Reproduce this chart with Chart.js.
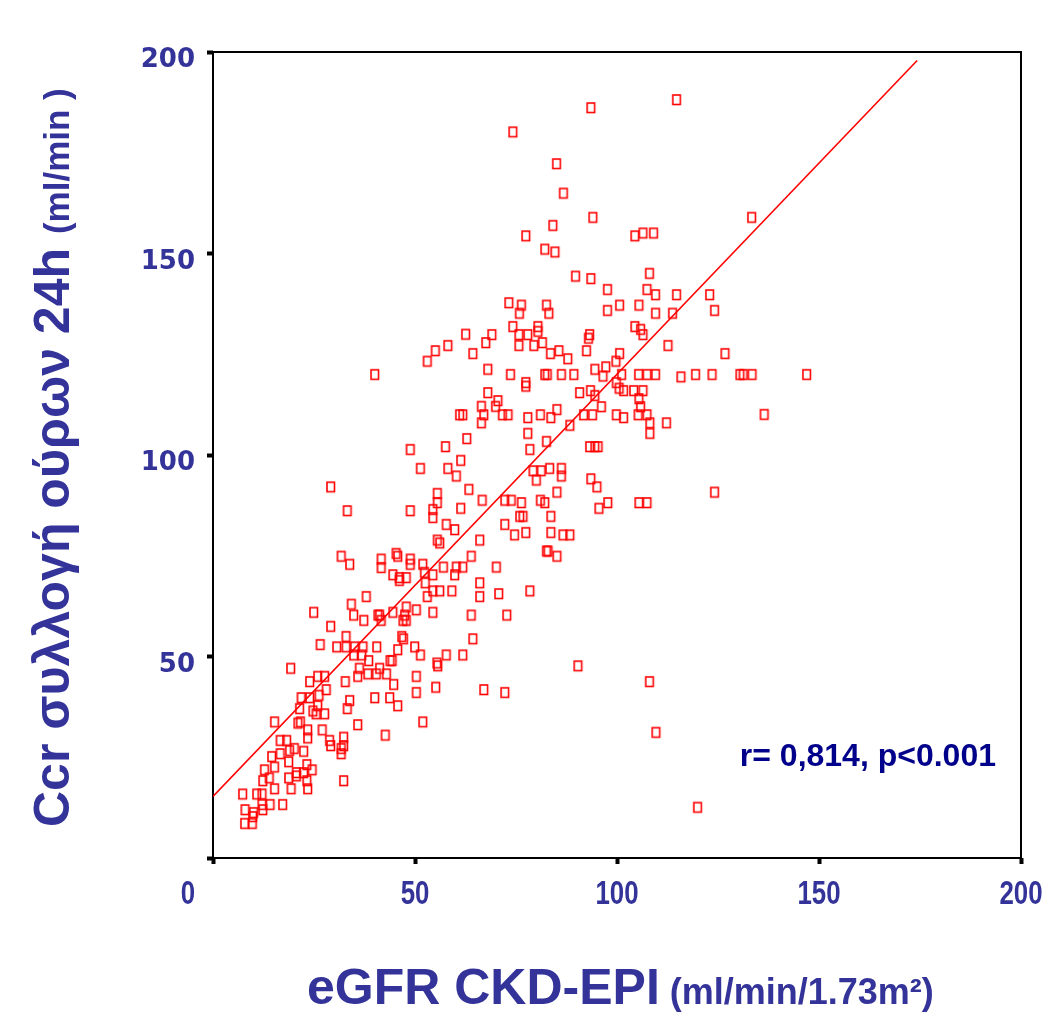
<!DOCTYPE html>
<html>
<head>
<meta charset="utf-8">
<script src="https://cdn.jsdelivr.net/npm/chart.js@4.4.0/dist/chart.umd.min.js"></script>
<style>
  html, body { margin: 0; padding: 0; background: #fff; }
  #wrap { position: relative; width: 1043px; height: 1017px; }
</style>
</head>
<body>
<div id="wrap"><canvas id="chart"></canvas></div>
<script>
// eGFR CKD-EPI (x) vs Ccr from 24h urine (y)
const egfrValues = [
  114.8, 93.6, 74.3, 85.1, 86.8, 94.1, 133.4, 84.2, 77.5, 82.2,
  84.7, 104.5, 106.5, 109.1, 89.8, 93.6, 108.1, 97.7, 107.5, 109.6,
  114.8, 123.0, 73.3, 76.4, 82.6, 75.9, 83.2, 97.7, 100.7, 105.5,
  109.6, 113.8, 124.2, 69.1, 67.6, 74.3, 75.8, 78.0, 80.5, 80.5,
  75.8, 79.5, 81.6, 83.6, 85.7, 87.9, 92.5, 93.3, 93.0, 104.5,
  105.9, 106.5, 112.7, 126.8, 100.7, 99.8, 97.3, 94.6, 68.1, 73.7,
  82.2, 82.8, 86.3, 89.4, 96.6, 101.2, 105.4, 107.5, 109.6, 115.9,
  119.5, 123.6, 130.5, 131.3, 133.5, 147.0, 136.5, 77.5, 77.5, 68.1,
  70.6, 70.0, 66.5, 67.1, 66.5, 71.7, 73.1, 78.0, 81.1, 83.7,
  85.2, 88.4, 90.8, 93.5, 94.6, 96.2, 91.8, 94.0, 99.9, 100.6,
  101.7, 104.2, 106.5, 105.5, 105.9, 99.9, 101.7, 105.3, 107.5, 108.2,
  108.2, 112.3, 78.0, 82.6, 78.5, 93.3, 94.6, 95.4, 79.3, 81.3,
  83.4, 86.3, 80.1, 86.3, 93.6, 95.1, 85.2, 66.7, 72.3, 73.9,
  76.4, 81.1, 82.2, 97.8, 95.6, 105.5, 107.5, 124.2, 76.0, 76.8,
  83.7, 72.3, 74.7, 77.5, 83.7, 86.7, 88.4, 66.1, 82.6, 83.0,
  85.2, 70.2, 66.1, 66.1, 70.8, 78.5, 72.8, 90.4, 108.1, 67.1,
  72.3, 109.7, 120.0, 62.6, 58.2, 55.1, 53.1, 64.4, 40.1, 61.1,
  61.9, 48.9, 57.6, 62.9, 51.4, 58.2, 60.3, 61.4, 29.2, 63.4,
  55.6, 55.6, 33.3, 48.9, 54.5, 54.5, 61.4, 57.8, 59.9, 55.6,
  56.2, 31.8, 33.9, 41.7, 41.7, 45.4, 45.8, 48.9, 48.9, 52.0,
  52.4, 54.5, 57.1, 60.3, 61.9, 59.9, 64.0, 44.6, 46.2, 47.9,
  46.2, 52.6, 54.5, 56.2, 59.2, 53.1, 38.0, 34.3, 34.9, 25.0,
  37.4, 29.2, 40.9, 41.3, 41.7, 44.6, 47.9, 47.5, 47.9, 47.1,
  50.4, 54.5, 64.0, 26.6, 30.7, 33.0, 33.0, 35.1, 37.2, 40.6,
  46.8, 47.2, 50.0, 64.4, 34.9, 36.9, 45.8, 43.9, 44.4, 38.6,
  51.4, 57.8, 61.9, 55.7, 55.5, 19.3, 36.3, 38.4, 40.5, 41.3,
  43.0, 35.9, 24.0, 26.0, 27.7, 32.8, 44.8, 50.4, 55.2, 50.4,
  28.1, 21.9, 24.0, 26.3, 40.1, 43.8, 33.9, 45.8, 21.5, 26.0,
  33.3, 24.8, 25.6, 27.7, 15.3, 21.1, 21.7, 35.9, 52.0, 23.5,
  23.5, 27.1, 16.7, 18.3, 28.9, 29.2, 32.4, 32.4, 31.8, 31.8,
  42.7, 16.7, 19.0, 20.2, 22.5, 14.6, 18.8, 12.8, 15.3, 23.3,
  24.6, 22.5, 20.7, 20.7, 14.0, 12.4, 18.8, 23.3, 32.4, 15.3,
  19.4, 23.5, 7.4, 10.9, 12.2, 12.2, 12.4, 14.2, 17.3, 8.0,
  10.1, 9.9, 7.9, 9.8
];
const ccrValues = [
  188.1, 186.1, 180.1, 172.2, 164.9, 158.9, 158.9, 156.9, 154.3, 151.0,
  150.3, 154.3, 155.0, 155.0, 144.3, 143.7, 145.0, 141.0, 141.0, 139.7,
  139.7, 139.7, 137.7, 137.1, 137.1, 135.1, 135.1, 135.8, 137.1, 137.1,
  135.1, 135.1, 135.8, 129.8, 127.8, 131.8, 129.8, 129.8, 131.8, 130.6,
  127.1, 127.1, 127.8, 125.1, 125.8, 123.8, 125.8, 129.8, 128.9, 131.8,
  131.1, 129.8, 127.1, 125.1, 125.1, 123.2, 121.8, 121.2, 121.2, 119.9,
  119.9, 119.9, 119.9, 119.9, 119.5, 119.9, 119.9, 119.9, 119.9, 119.3,
  119.9, 119.9, 119.9, 119.9, 119.9, 119.9, 110.0, 117.9, 117.0, 115.4,
  113.4, 112.0, 112.0, 109.9, 107.9, 109.9, 109.9, 109.2, 109.9, 109.2,
  111.2, 107.3, 115.4, 115.9, 114.7, 111.9, 109.9, 109.9, 117.9, 116.5,
  115.9, 115.9, 115.9, 113.9, 111.9, 109.9, 109.2, 109.9, 109.9, 107.9,
  105.3, 107.9, 105.3, 103.3, 101.3, 102.0, 102.0, 102.0, 96.0, 96.0,
  96.6, 96.6, 93.7, 94.7, 94.0, 92.0, 90.7, 88.7, 88.7, 88.7,
  88.1, 88.7, 88.1, 88.1, 86.7, 88.1, 88.1, 90.7, 84.7, 84.7,
  84.7, 82.7, 80.1, 80.7, 80.7, 80.1, 80.1, 78.8, 76.1, 76.1,
  74.8, 72.1, 68.2, 64.8, 65.5, 66.2, 60.2, 47.6, 43.7, 41.7,
  41.0, 31.1, 12.5, 129.9, 127.1, 125.8, 123.2, 125.1, 119.9, 109.9,
  109.9, 101.3, 102.0, 104.0, 96.6, 96.6, 94.7, 98.6, 92.0, 91.4,
  90.4, 88.1, 86.1, 86.1, 86.4, 84.4, 86.7, 82.7, 81.4, 78.8,
  78.1, 74.8, 72.8, 74.1, 72.0, 75.5, 74.8, 74.1, 72.8, 72.8,
  70.8, 70.2, 72.1, 72.1, 72.1, 70.2, 74.8, 70.2, 69.5, 69.5,
  68.8, 68.2, 66.2, 66.2, 66.2, 64.8, 64.8, 62.9, 60.2, 60.9,
  58.9, 57.4, 60.2, 60.2, 58.9, 60.9, 62.2, 60.2, 58.9, 58.9,
  61.5, 60.9, 60.2, 52.9, 52.3, 54.9, 52.3, 52.3, 52.3, 52.3,
  54.9, 54.3, 52.3, 54.3, 50.3, 50.3, 51.6, 48.9, 48.9, 48.9,
  50.3, 50.3, 50.3, 47.6, 48.3, 47.0, 47.0, 45.6, 45.6, 47.0,
  45.6, 45.0, 43.7, 45.0, 45.0, 43.7, 43.0, 45.0, 42.3, 41.0,
  41.7, 39.7, 39.7, 40.3, 39.7, 39.7, 39.0, 37.7, 37.0, 37.7,
  37.0, 36.4, 35.7, 35.7, 33.7, 33.4, 33.7, 33.0, 33.7, 31.7,
  29.7, 31.7, 29.1, 29.1, 29.1, 27.8, 29.9, 27.8, 27.1, 25.8,
  30.4, 25.8, 26.6, 27.1, 26.4, 25.1, 23.8, 21.8, 22.5, 23.1,
  21.8, 21.1, 21.1, 20.3, 19.8, 19.1, 19.8, 19.1, 19.1, 17.1,
  17.1, 17.1, 15.8, 15.8, 15.8, 13.2, 11.9, 13.2, 13.2, 11.9,
  11.2, 10.2, 8.5, 8.5
];

// fit line end points
const fitX = [0, 174.3];
const fitY = [15.3, 197.9];

const xTickValues = [0, 50, 100, 150, 200];
const yTickValues = [50, 100, 150, 200];

const xTitle = 'eGFR CKD-EPI';
const xTitleUnit = '(ml/min/1.73m²)';
const yTitle = 'Ccr συλλογή ούρων 24h';
const yTitleUnit = '(ml/min )';
const statText = 'r= 0,814, p<0.001';

const axisBlue = '#333399';
const bold = sz => `bold ${sz}px "Liberation Sans", Arial, sans-serif`;

// hollow square marker, a bit taller than wide
const marker = document.createElement('canvas');
marker.width = 12; marker.height = 14;
(() => {
  const m = marker.getContext('2d');
  m.strokeStyle = '#ff0000';
  m.lineWidth = 1.6;
  m.strokeRect(2, 2, 7.5, 9.5);
})();

const points = egfrValues.map((v, i) => ({ x: v, y: ccrValues[i] }));
const fitLine = fitX.map((v, i) => ({ x: v, y: fitY[i] }));

// condensed text: draw squeezed horizontally
function narrowText(ctx, txt, cx, baseY, sx) {
  ctx.save();
  ctx.translate(cx, baseY);
  ctx.scale(sx, 1);
  ctx.fillText(txt, 0, 0);
  ctx.restore();
}

const decor = {
  id: 'decor',
  beforeDatasetsDraw(chart) {
    const { ctx, chartArea: a } = chart;
    ctx.save();
    ctx.strokeStyle = '#000';
    ctx.lineWidth = 2;
    ctx.strokeRect(a.left, a.top, a.right - a.left, a.bottom - a.top);
    ctx.restore();
  },
  afterDraw(chart) {
    const { ctx, chartArea: a, scales: { x, y } } = chart;
    ctx.save();
    ctx.fillStyle = axisBlue;
    ctx.textBaseline = 'alphabetic';

    // y tick labels
    ctx.font = 'bold 26px "DejaVu Sans"';
    ctx.textAlign = 'right';
    yTickValues.forEach(v => ctx.fillText(String(v), a.left - 18, y.getPixelForValue(v) + 15));

    // x tick labels (the 0 sits left of its tick in the original)
    ctx.font = bold(34);
    ctx.textAlign = 'center';
    xTickValues.forEach(v => narrowText(ctx, String(v), x.getPixelForValue(v) + (v === 0 ? -25 : 0), a.bottom + 46, 0.76));

    // x title
    ctx.textAlign = 'left';
    ctx.font = bold(50);
    const xw = ctx.measureText(xTitle + ' ').width;
    ctx.fillText(xTitle, 307, 1004);
    ctx.font = bold(36);
    ctx.fillText(xTitleUnit, 307 + xw - 4, 1004);

    // y title, rotated
    ctx.save();
    ctx.translate(69, 827);
    ctx.rotate(-Math.PI / 2);
    ctx.font = bold(50);
    ctx.fillText(yTitle, 0, 0);
    const yw = ctx.measureText(yTitle + ' ').width;
    ctx.font = bold(35);
    ctx.fillText(yTitleUnit, yw, 0);
    ctx.restore();

    // correlation note
    ctx.fillStyle = '#00008b';
    ctx.font = bold(32);
    ctx.textAlign = 'right';
    ctx.fillText(statText, a.right - 25, 766);
    ctx.restore();
  }
};

new Chart(document.getElementById('chart'), {
  type: 'scatter',
  data: {
    datasets: [
      { type: 'line', data: fitLine, borderColor: '#ff0000', borderWidth: 1.6, pointRadius: 0, fill: false },
      { data: points, pointStyle: marker, pointRadius: 6, pointHoverRadius: 6 }
    ]
  },
  options: {
    responsive: true,
    maintainAspectRatio: false,
    animation: false,
    layout: { padding: { top: 52, right: 22, left: 0, bottom: 0 } },
    plugins: { legend: { display: false }, tooltip: { enabled: false } },
    scales: {
      x: {
        type: 'linear', min: 0, max: 200,
        ticks: { stepSize: 50, display: false },
        grid: { drawOnChartArea: false, drawTicks: true, tickLength: 6, tickWidth: 4, tickColor: '#000' },
        border: { display: false },
        afterFit: s => { s.height = 159; }
      },
      y: {
        type: 'linear', min: 0, max: 200,
        ticks: { stepSize: 50, display: false },
        grid: { drawOnChartArea: false, drawTicks: true, tickLength: 6, tickWidth: 4, tickColor: '#000' },
        border: { display: false },
        afterFit: s => { s.width = 213; }
      }
    }
  },
  plugins: [decor]
});
</script>
</body>
</html>
